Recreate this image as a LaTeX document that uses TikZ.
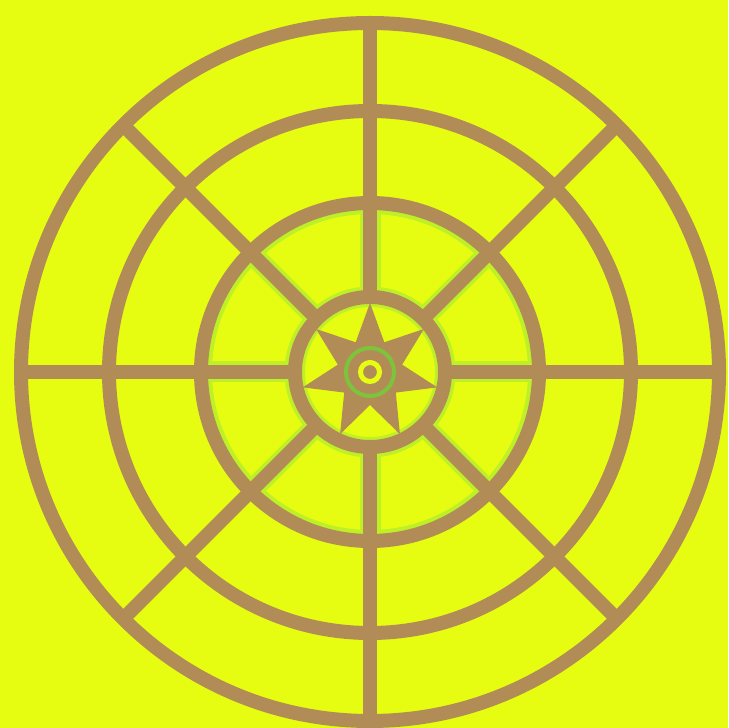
\documentclass[tikz,border=0pt]{standalone}
\usetikzlibrary{calc}
\definecolor{bg}{RGB}{230,253,18}
\definecolor{brn}{RGB}{178,140,86}
\definecolor{glow}{RGB}{190,240,40}
\definecolor{grn}{RGB}{125,196,60}
\tikzset{
  ringline/.style={draw=brn, line width=14pt},
  spokeline/.style={draw=brn, line width=14pt},
  glowline/.style={draw=glow, line width=21pt},
}
\begin{document}
\begin{tikzpicture}[x=1pt,y=1pt]
\fill[bg] (0,0) rectangle (728,728);
\useasboundingbox (0,0) rectangle (728,728);
\coordinate (c) at (370,356);
% glow inside third ring, outside the inner ring
\begin{scope}[even odd rule]
  \clip (c) circle (163) (c) circle (80);
  \draw[glow, line width=10pt] (c) circle (163);
  \foreach \a in {0,45,...,315} {
    \draw[glowline] ($(c)+(\a:70)$) -- ($(c)+(\a:170)$);
  }
  \draw[glow, line width=21pt] (c) circle (75);
\end{scope}
% glow inside the inner ring
\begin{scope}
  \clip (c) circle (68);
  \draw[glow, line width=6pt] (c) circle (68);
\end{scope}
% rings
\draw[ringline] (c) circle (349);
\draw[ringline] (c) circle (261);
\draw[ringline] (c) circle (169);
\draw[ringline] (c) circle (75);
% spokes
\foreach \a in {0,45,...,315} {
  \draw[spokeline] ($(c)+(\a:75)$) -- ($(c)+(\a:349)$);
}
% star
\begin{scope}[shift={(c)}]
  \fill[brn] (90:69) \foreach \i in {0,...,6} { -- ({90+\i*360/7}:69) -- ({90+\i*360/7+180/7}:33) } -- cycle;
  \draw[grn, line width=4pt] (0,0) circle (24);
  \draw[bg, line width=5pt] (0,0) circle (9.5);
  \fill[brn] (0,0) circle (5);
\end{scope}
\end{tikzpicture}
\end{document}
